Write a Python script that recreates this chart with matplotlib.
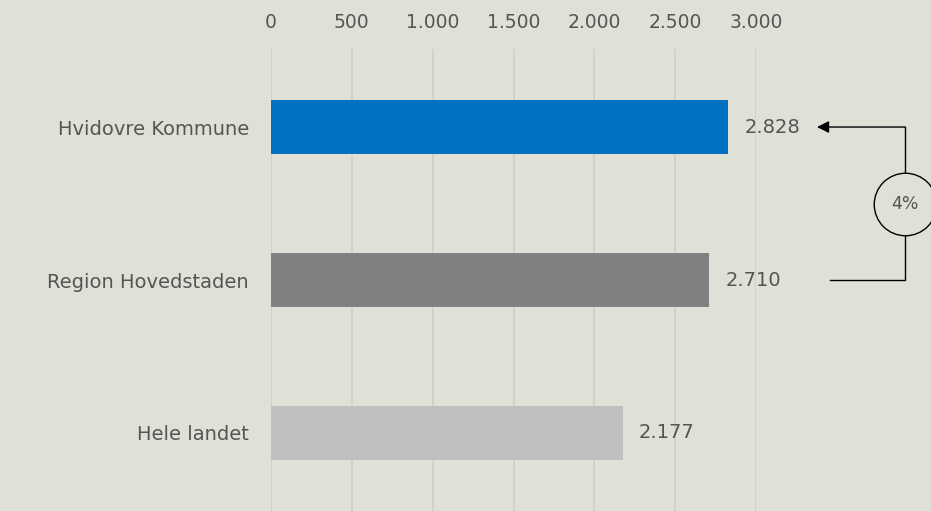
import matplotlib.pyplot as plt
from matplotlib.ticker import FuncFormatter

categories = ["Hvidovre Kommune", "Region Hovedstaden", "Hele landet"]
values = [2828, 2710, 2177]
bar_colors = ["#0070C0", "#808080", "#BFBFBF"]
ticks = [0, 500, 1000, 1500, 2000, 2500, 3000]
change_label = "4%"

bg = "#DFE1D7"
txt = "#555555"

plt.rcParams['font.family'] = ['DejaVu Sans']

fig = plt.figure(figsize=(9.31, 5.11), dpi=100, facecolor=bg)
ax = fig.add_axes([271 / 931, 0, (756 - 271) / 931, 1 - 49 / 511])
ax.set_facecolor(bg)

pos = list(range(len(categories)))
ax.barh(pos, values, height=0.35, color=bar_colors, zorder=3)

ax.set_xlim(0, 3000)
ax.set_ylim(2.51, -0.51)
ax.set_xticks(ticks)
ax.xaxis.set_major_formatter(FuncFormatter(lambda v, p: f"{int(v):,}".replace(",", ".")))
ax.xaxis.tick_top()
ax.tick_params(axis="x", length=0, pad=12, labelsize=13.5, labelcolor=txt)
ax.set_yticks(pos)
ax.set_yticklabels(categories)
ax.tick_params(axis="y", length=0, pad=16, labelsize=14, labelcolor=txt)
ax.grid(axis="x", color="#CDD0C6", linewidth=1.2, zorder=0)
for s in ax.spines.values():
    s.set_visible(False)

for p, v in zip(pos, values):
    ax.text(v + 100, p, f"{v:,}".replace(",", "."), va="center", ha="left",
            fontsize=14, color=txt)

# bracket with percentage change
xr = 3922
ax.plot([3458, xr, xr], [1, 1, 0], color="black", lw=1, clip_on=False, zorder=4)
ax.annotate("", xy=(3377, 0), xytext=(xr, 0),
            arrowprops=dict(arrowstyle="-|>", color="black", lw=1, mutation_scale=18,
                            shrinkA=0, shrinkB=0),
            annotation_clip=False)
ax.plot([xr], [0.5], marker="o", markersize=45, markerfacecolor=bg,
        markeredgecolor="black", markeredgewidth=1, clip_on=False, zorder=5)
ax.text(xr, 0.5, change_label, ha="center", va="center", fontsize=12.5,
        color=txt, zorder=6)

fig.savefig("out.png", dpi=100, facecolor=bg)
